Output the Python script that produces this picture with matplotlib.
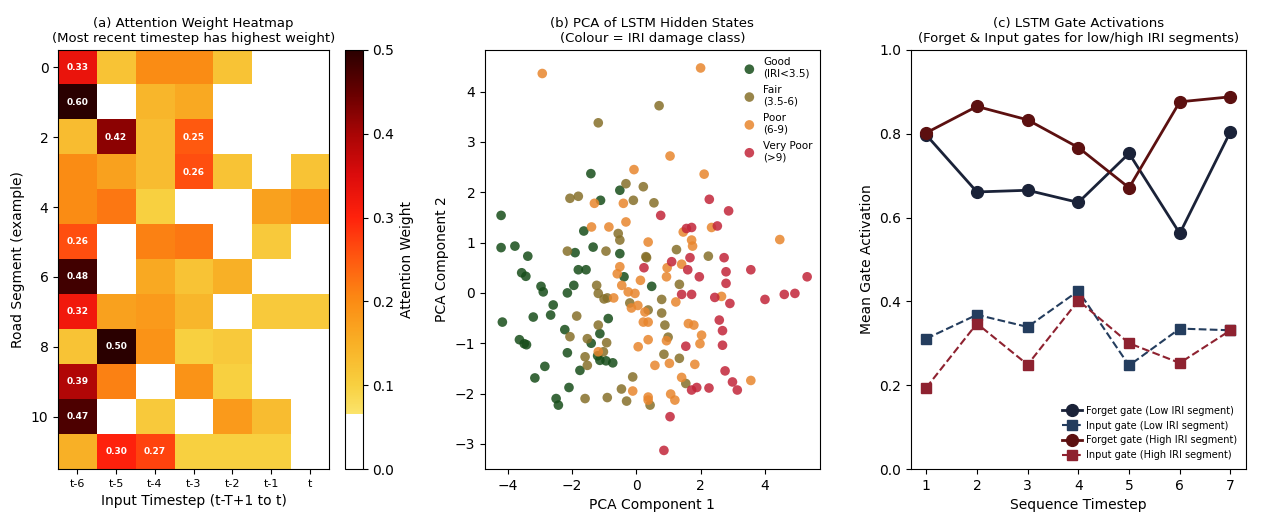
import numpy as np
import matplotlib
matplotlib.use('Agg')
import matplotlib.pyplot as plt
from matplotlib.colors import LinearSegmentedColormap

# (a) attention weights, rows = road segments, cols = timesteps
timestep_labels = ['t-6', 't-5', 't-4', 't-3', 't-2', 't-1', 't']
attention = [
    [0.33, 0.12, 0.20, 0.20, 0.12, 0.03, 0.02],
    [0.60, 0.04, 0.14, 0.16, 0.03, 0.02, 0.01],
    [0.13, 0.42, 0.13, 0.25, 0.03, 0.02, 0.02],
    [0.20, 0.17, 0.13, 0.26, 0.12, 0.04, 0.12],
    [0.20, 0.22, 0.10, 0.03, 0.04, 0.17, 0.19],
    [0.26, 0.03, 0.21, 0.22, 0.04, 0.11, 0.03],
    [0.48, 0.04, 0.16, 0.12, 0.15, 0.02, 0.03],
    [0.32, 0.17, 0.18, 0.14, 0.04, 0.11, 0.11],
    [0.12, 0.50, 0.19, 0.10, 0.11, 0.03, 0.02],
    [0.39, 0.21, 0.04, 0.19, 0.10, 0.03, 0.02],
    [0.47, 0.03, 0.11, 0.04, 0.18, 0.13, 0.02],
    [0.15, 0.30, 0.27, 0.10, 0.10, 0.10, 0.03],
]

# (b) PCA of hidden states, one list of (pc1, pc2) per IRI class
pca_good = [
    (-4.20, 1.54), (-1.41, 2.37), (-0.51, 2.04), (-1.11, 1.84), (-1.63, 1.23),
    (-4.20, 0.90), (-3.77, 0.93), (-3.37, 0.73), (-1.90, 0.80), (-1.34, 0.91),
    (-0.51, 0.78), (-3.56, 0.40), (-3.43, 0.33), (-1.80, 0.46), (-1.56, 0.46),
    (-2.96, 0.13), (-2.89, 0.02), (-2.14, 0.00), (-1.94, 0.15), (-0.38, 0.32),
    (0.48, 0.13), (-2.58, -0.24), (-2.66, -0.44), (-3.20, -0.48), (-4.16, -0.58),
    (-0.87, -0.51), (-2.22, -0.73), (-1.13, -0.81), (-3.63, -0.93), (-3.48, -1.01),
    (-3.41, -1.03), (-2.14, -1.19), (-1.13, -1.34), (-0.94, -1.35), (-0.73, -1.39),
    (-1.75, -1.54), (-2.84, -1.46), (-3.15, -1.69), (-2.09, -1.88), (-2.49, -2.10),
    (-2.42, -2.23), (-1.40, -1.00), (-1.20, -1.25),
]
pca_fair = [
    (0.71, 3.72), (-1.18, 3.38), (-0.32, 2.17), (0.22, 2.11), (-2.06, 1.88),
    (-1.80, 1.92), (-0.09, 1.84), (0.55, 1.79), (-0.56, 1.18), (-0.51, 1.05),
    (-2.14, 0.83), (-0.94, 0.83), (0.30, 0.72), (1.25, 0.86), (2.24, 0.73),
    (0.32, 0.70), (-1.23, 0.15), (-1.18, -0.01), (1.34, 0.17), (0.79, -0.13),
    (-1.85, -0.46), (-1.18, -0.64), (-2.06, -0.87), (-1.52, -0.91), (-0.92, -0.99),
    (-1.02, -1.17), (-1.59, -1.27), (-1.52, -1.44), (-1.59, -2.10), (-0.90, -2.08),
    (-0.46, -1.91), (-0.30, -2.15), (-0.11, -1.67), (0.79, -0.40), (0.89, -0.64),
    (0.99, -0.88), (0.86, -1.22), (1.34, -1.30), (1.54, -1.80), (0.43, -2.23),
    (-0.90, -0.10), (-1.00, -0.12), (-0.20, -0.20), (0.37, -0.34),
]
pca_poor = [
    (-2.92, 4.36), (2.00, 4.47), (1.05, 2.72), (2.11, 2.36), (-0.07, 2.45),
    (-1.30, 1.78), (-0.40, 1.78), (-0.32, 1.41), (-0.85, 1.31), (-1.39, 1.31),
    (0.37, 1.01), (1.46, 1.21), (2.34, 1.30), (4.46, 1.06), (1.72, 1.05),
    (1.75, 0.93), (-0.59, 0.38), (-0.51, 0.52), (0.13, 0.25), (-0.25, 0.02),
    (-0.04, -0.01), (0.96, 0.50), (1.41, 0.57), (0.94, 0.32), (1.23, -0.18),
    (2.65, -0.07), (0.27, -0.38), (0.37, -0.58), (0.22, -0.58), (1.62, -0.61),
    (1.79, -0.64), (0.37, -0.93), (0.94, -0.95), (2.03, -0.84), (1.98, -1.01),
    (0.58, -1.44), (1.03, -1.40), (1.82, -1.42), (1.41, -1.68), (3.56, -1.74),
    (0.37, -2.07), (1.07, -2.01), (1.20, -2.13), (-1.18, -1.17), (-0.11, -1.95),
    (0.06, -1.07), (0.37, -2.13), (-0.15, -0.30), (0.05, -0.25), (-0.45, 0.15),
    (-0.70, -0.10),
]
pca_very_poor = [
    (2.27, 1.86), (0.76, 1.54), (2.87, 1.63), (1.56, 1.28), (1.72, 1.30),
    (2.52, 1.33), (2.73, 0.70), (1.67, 0.70), (1.10, 0.62), (0.24, 0.50),
    (1.60, 0.46), (2.79, 0.42), (3.56, 0.46), (5.31, 0.32), (1.96, 0.32),
    (2.79, 0.19), (1.72, -0.03), (1.41, -0.03), (2.44, -0.09), (4.00, -0.13),
    (4.60, -0.03), (4.93, -0.01), (2.91, -0.21), (2.58, -0.54), (2.68, -0.75),
    (1.54, -1.06), (2.68, -1.04), (2.76, -1.55), (1.72, -1.93), (1.88, -1.88),
    (2.26, -1.89), (2.99, -1.77), (3.14, -1.93), (1.05, -2.46), (0.86, -3.13),
]
class_labels = ['Good\n(IRI<3.5)', 'Fair\n(3.5-6)', 'Poor\n(6-9)', 'Very Poor\n(>9)']

# (c) gate activations
seq_steps = [1, 2, 3, 4, 5, 6, 7]
forget_low = [0.797, 0.661, 0.665, 0.636, 0.753, 0.562, 0.805]
input_low = [0.311, 0.368, 0.339, 0.425, 0.247, 0.335, 0.331]
forget_high = [0.802, 0.865, 0.833, 0.767, 0.671, 0.876, 0.888]
input_high = [0.194, 0.347, 0.249, 0.402, 0.300, 0.253, 0.331]


def attention_cmap():
    # white for very small weights, then yellow -> orange -> red -> near black
    nodes = [
        (0.0, '#ffffff'), (0.13, '#ffffff'), (0.1301, '#fbe46c'),
        (0.2, '#f8d040'), (0.3, '#f9b026'), (0.4, '#fb8c14'),
        (0.5, '#ff5a10'), (0.6, '#ff220c'), (0.7, '#dc0c0c'),
        (0.8, '#a80505'), (0.9, '#660000'), (1.0, '#2a0000'),
    ]
    return LinearSegmentedColormap.from_list('attn', nodes, N=512)


def plot_heatmap(fig):
    ax = fig.add_axes([0.046, 0.1015, 0.2146, 0.803])
    data = np.array(attention)
    im = ax.imshow(data, cmap=attention_cmap(), vmin=0, vmax=0.5, aspect='auto')
    for i in range(data.shape[0]):
        for j in range(data.shape[1]):
            if data[i, j] >= 0.25:
                ax.text(j, i, f'{data[i, j]:.2f}', ha='center', va='center',
                        color='white', fontsize=6.5, fontweight='semibold')
    ax.set_xticks(range(len(timestep_labels)))
    ax.set_xticklabels(timestep_labels)
    ax.set_yticks(range(0, data.shape[0], 2))
    ax.tick_params(labelsize=10)
    ax.tick_params(axis='x', labelsize=8)
    ax.set_xlabel('Input Timestep (t-T+1 to t)', fontsize=10)
    ax.set_ylabel('Road Segment (example)', fontsize=10)
    ax.set_title('(a) Attention Weight Heatmap\n(Most recent timestep has highest weight)',
                 fontsize=9.5)
    cax = fig.add_axes([0.273, 0.1015, 0.0143, 0.803])
    cb = fig.colorbar(im, cax=cax)
    cb.set_label('Attention Weight', fontsize=10)
    cb.ax.tick_params(labelsize=10)


def plot_pca(fig):
    ax = fig.add_axes([0.384, 0.1015, 0.265, 0.803])
    groups = [pca_good, pca_fair, pca_poor, pca_very_poor]
    colors = ['#174d1a', '#86702a', '#e8862e', '#c2263a']
    for pts, col, lab in zip(groups, colors, class_labels):
        arr = np.array(pts)
        ax.scatter(arr[:, 0], arr[:, 1], s=48, color=col, alpha=0.85,
                   edgecolors='none', label=lab)
    ax.set_xlim(-4.7, 5.7)
    ax.set_ylim(-3.5, 4.83)
    ax.set_xticks([-4, -2, 0, 2, 4])
    ax.set_yticks([-3, -2, -1, 0, 1, 2, 3, 4])
    ax.tick_params(labelsize=10)
    ax.set_xlabel('PCA Component 1', fontsize=10)
    ax.set_ylabel('PCA Component 2', fontsize=10)
    ax.set_title('(b) PCA of LSTM Hidden States\n(Colour = IRI damage class)', fontsize=9.5)
    ax.legend(loc='upper right', frameon=False, fontsize=7.5, handletextpad=0.3,
              labelspacing=0.6, borderaxespad=0.3)


def plot_gates(fig):
    ax = fig.add_axes([0.7213, 0.1015, 0.265, 0.803])
    ax.plot(seq_steps, forget_low, '-o', color='#1a2238', lw=2, ms=8.5,
            label='Forget gate (Low IRI segment)')
    ax.plot(seq_steps, input_low, '--s', color='#243d5e', lw=1.5, ms=7,
            label='Input gate (Low IRI segment)')
    ax.plot(seq_steps, forget_high, '-o', color='#5c1010', lw=2, ms=8.5,
            label='Forget gate (High IRI segment)')
    ax.plot(seq_steps, input_high, '--s', color='#8e2230', lw=1.5, ms=7,
            label='Input gate (High IRI segment)')
    ax.set_ylim(0, 1.0)
    ax.set_xticks(seq_steps)
    ax.tick_params(labelsize=10)
    ax.set_xlabel('Sequence Timestep', fontsize=10)
    ax.set_ylabel('Mean Gate Activation', fontsize=10)
    ax.set_title('(c) LSTM Gate Activations\n(Forget & Input gates for low/high IRI segments)',
                 fontsize=9.5)
    ax.legend(loc='lower right', frameon=False, fontsize=7, handletextpad=0.4,
              labelspacing=0.5)


def main():
    fig = plt.figure(figsize=(12.63, 5.22), dpi=100)
    plot_heatmap(fig)
    plot_pca(fig)
    plot_gates(fig)
    fig.savefig('out.png', dpi=100)


if __name__ == '__main__':
    main()
